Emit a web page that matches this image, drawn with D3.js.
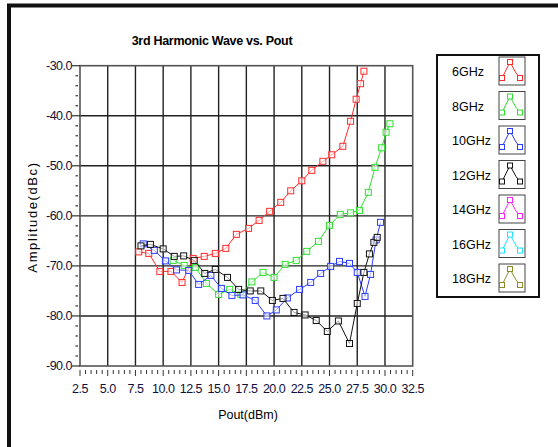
<!DOCTYPE html>
<html>
<head>
<meta charset="utf-8">
<script src="https://cdn.jsdelivr.net/npm/d3@7"></script>
<style>
  body { margin: 0; background: #fff; }
  text { font-family: "Liberation Sans", Arial, sans-serif; }
</style>
</head>
<body>
<svg id="chart" width="558" height="447"></svg>
<script>
// Series data (Pout in dBm, amplitude in dBc)
const pout6 = [7.8, 8.7, 9.7, 10.7, 11.7, 12.7, 13.7, 14.7, 15.65, 16.6, 17.7, 18.65, 19.6, 20.6, 21.5, 22.5, 23.4, 24.4, 25.2, 26.2, 26.9, 27.4, 27.8, 28.1];
const amp6  = [-67.2, -67.5, -71.1, -71.1, -73.3, -68.5, -68.1, -67.5, -66.5, -63.7, -62.5, -60.9, -59.1, -57.3, -55.0, -53.0, -50.9, -49.1, -47.8, -46.1, -41.1, -36.7, -33.6, -31.1];

const pout8 = [10.9, 11.9, 12.9, 13.9, 15.0, 16.0, 17.0, 18.0, 19.0, 20.0, 21.0, 22.0, 22.95, 24.0, 25.0, 25.97, 26.9, 27.7, 28.5, 29.1, 29.7, 30.1, 30.45];
const amp8  = [-68.9, -69.9, -70.3, -73.5, -75.7, -74.7, -75.7, -73.2, -71.3, -72.3, -69.7, -68.9, -67.1, -65.1, -61.9, -59.7, -59.4, -58.9, -55.3, -50.3, -46.4, -43.3, -41.6];

const pout10 = [8.2, 9.2, 10.2, 11.2, 12.3, 13.2, 14.3, 15.25, 16.2, 17.2, 18.3, 19.35, 20.2, 21.2, 22.3, 23.3, 24.2, 25.1, 25.9, 26.8, 27.5, 28.2, 28.7, 29.2, 29.6];
const amp10  = [-65.6, -66.9, -69.0, -70.8, -70.9, -73.7, -71.9, -74.5, -75.9, -75.8, -76.9, -80.0, -78.8, -76.4, -74.7, -73.3, -71.5, -70.1, -69.1, -69.5, -71.3, -76.1, -71.7, -64.8, -61.3];

const pout12 = [8.0, 8.85, 10.0, 11.0, 11.85, 12.8, 13.75, 14.7, 15.8, 16.8, 17.85, 18.8, 19.85, 20.8, 21.8, 22.8, 23.8, 24.8, 25.8, 26.8, 27.5, 28.1, 28.6, 29.0, 29.3];
const amp12  = [-66.0, -65.7, -66.6, -68.1, -68.0, -68.9, -71.5, -70.7, -72.3, -74.7, -75.0, -75.0, -76.9, -76.5, -79.3, -79.8, -80.9, -83.1, -81.0, -85.5, -77.5, -71.3, -67.6, -65.3, -64.3];

const legendLabels = ["6GHz", "8GHz", "10GHz", "12GHz", "14GHz", "16GHz", "18GHz"];
const legendColors = ["#ff2a2a", "#2ee02e", "#2a3cff", "#111111", "#ff22ff", "#22e0ff", "#8c8c2a"];

const xTicks = [2.5, 5.0, 7.5, 10.0, 12.5, 15.0, 17.5, 20.0, 22.5, 25.0, 27.5, 30.0, 32.5];
const yTicks = [-30, -40, -50, -60, -70, -80, -90];

const series = [
  { x: pout6, y: amp6, color: legendColors[0] },
  { x: pout8, y: amp8, color: legendColors[1] },
  { x: pout10, y: amp10, color: legendColors[2] },
  { x: pout12, y: amp12, color: legendColors[3] }
];

const svg = d3.select("#chart");

// outer frame
svg.append("path")
  .attr("d", "M9,447 L9,5.5 L558,5.5")
  .attr("fill", "none")
  .attr("stroke", "#111")
  .attr("stroke-width", 4);

const plotL = 80, plotR = 412.7, plotT = 65.7, plotB = 366;
const x = d3.scaleLinear().domain([2.5, 32.5]).range([plotL, plotR]);
const y = d3.scaleLinear().domain([-30, -90]).range([plotT, plotB]);

// grid
const grid = svg.append("g");
grid.selectAll(".vg").data(xTicks.slice(1, -1)).enter().append("line")
  .attr("x1", d => x(d)).attr("x2", d => x(d))
  .attr("y1", plotT).attr("y2", plotB)
  .attr("stroke", "#222").attr("stroke-width", 1.4);
grid.selectAll(".hg").data(yTicks.slice(1, -1)).enter().append("line")
  .attr("x1", plotL).attr("x2", plotR)
  .attr("y1", d => y(d)).attr("y2", d => y(d))
  .attr("stroke", "#222").attr("stroke-width", 1.4);

// plot frame
svg.append("rect")
  .attr("x", plotL).attr("y", plotT)
  .attr("width", plotR - plotL).attr("height", plotB - plotT)
  .attr("fill", "none").attr("stroke", "#555").attr("stroke-width", 1.6);

// x axis ticks
const xMinor = d3.range(0, 61).map(i => 2.5 + i * 0.5);
svg.selectAll(".xmin").data(xMinor).enter().append("line")
  .attr("x1", d => x(d)).attr("x2", d => x(d))
  .attr("y1", plotB + 4)
  .attr("y2", (d, i) => i % 5 === 0 ? plotB + 10 : plotB + 8)
  .attr("stroke", "#333").attr("stroke-width", 1);
svg.selectAll(".xlab").data(xTicks).enter().append("text")
  .attr("x", d => x(d)).attr("y", plotB + 27)
  .attr("text-anchor", "middle")
  .attr("font-size", 12.5).attr("letter-spacing", -0.5)
  .attr("fill", "#10103a")
  .text(d => d.toFixed(1));

// y axis ticks
const yMinor = d3.range(0, 31).map(i => -30 - i * 2);
svg.selectAll(".ymin").data(yMinor).enter().append("line")
  .attr("x1", (d, i) => i % 5 === 0 ? 72 : 75.5).attr("x2", (d, i) => i % 5 === 0 ? plotL : 78)
  .attr("y1", d => y(d)).attr("y2", d => y(d))
  .attr("stroke", "#333").attr("stroke-width", 1.2);
svg.selectAll(".ylab").data(yTicks).enter().append("text")
  .attr("x", 72).attr("y", d => y(d) + 4)
  .attr("text-anchor", "end")
  .attr("font-size", 12.5).attr("letter-spacing", -0.5)
  .attr("fill", "#10103a")
  .text(d => d.toFixed(1));

// titles
svg.append("text")
  .attr("x", 212).attr("y", 45)
  .attr("text-anchor", "middle")
  .attr("font-size", 12.5).attr("font-weight", "bold")
  .attr("letter-spacing", -0.3)
  .text("3rd Harmonic Wave vs. Pout");
svg.append("text")
  .attr("x", 248).attr("y", 419)
  .attr("text-anchor", "middle")
  .attr("font-size", 12.5)
  .text("Pout(dBm)");
svg.append("text")
  .attr("transform", "translate(37,217) rotate(-90)")
  .attr("text-anchor", "middle")
  .attr("font-size", 13).attr("letter-spacing", 1.6)
  .text("Amplitude(dBc)");

// series
const line = d3.line().x(d => x(d[0])).y(d => y(d[1]));
series.forEach(s => {
  const pts = s.x.map((v, i) => [v, s.y[i]]);
  const g = svg.append("g");
  g.append("path").datum(pts)
    .attr("d", line)
    .attr("fill", "none").attr("stroke", s.color).attr("stroke-width", 1);
  g.selectAll("rect").data(pts).enter().append("rect")
    .attr("x", d => x(d[0]) - 3).attr("y", d => y(d[1]) - 3)
    .attr("width", 6).attr("height", 6)
    .attr("fill", "#fff").attr("fill-opacity", 0.6)
    .attr("stroke", s.color).attr("stroke-width", 1);
});

// legend
const lg = svg.append("g");
lg.append("rect")
  .attr("x", 437).attr("y", 55).attr("width", 102).attr("height", 242)
  .attr("fill", "#fff").attr("stroke", "#111").attr("stroke-width", 2);
const swatch = [[3, 21], [11, 5], [17, 16], [21, 21]];
legendLabels.forEach((lab, i) => {
  const cy = 72 + i * 34.5;
  lg.append("text")
    .attr("x", 452).attr("y", cy + 4)
    .attr("font-size", 12.5)
    .text(lab);
  const sx = 499, sy = cy - 15;
  lg.append("rect")
    .attr("x", sx).attr("y", sy).attr("width", 26).attr("height", 28)
    .attr("fill", "#fff").attr("stroke", "#444").attr("stroke-width", 1);
  lg.append("path")
    .attr("d", d3.line()(swatch.map(p => [sx + p[0], sy + p[1]])))
    .attr("fill", "none").attr("stroke", legendColors[i]).attr("stroke-width", 1);
  [[3, 21], [11, 5], [21, 21]].forEach(p => {
    lg.append("rect")
      .attr("x", sx + p[0] - 2.5).attr("y", sy + p[1] - 2.5)
      .attr("width", 5).attr("height", 5)
      .attr("fill", "#fff").attr("stroke", legendColors[i]).attr("stroke-width", 1);
  });
});
</script>
</body>
</html>
